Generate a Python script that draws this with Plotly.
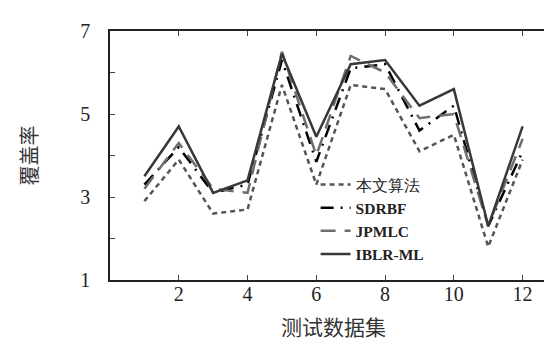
import plotly.graph_objects as go

x = list(range(1, 13))
ours = [2.9, 3.9, 2.6, 2.7, 5.7, 3.3, 5.7, 5.6, 4.1, 4.5, 1.8, 3.9]
sdrbf = [3.3, 4.2, 3.1, 3.3, 6.3, 3.85, 6.1, 6.2, 4.6, 5.2, 2.3, 4.1]
jpmlc = [3.2, 4.3, 3.2, 3.1, 6.5, 4.0, 6.4, 6.0, 4.9, 5.0, 2.3, 4.4]
iblr = [3.5, 4.7, 3.1, 3.4, 6.45, 4.45, 6.2, 6.3, 5.2, 5.6, 2.3, 4.7]

names = ["本文算法", "<b>SDRBF</b>", "<b>JPMLC</b>", "<b>IBLR-ML</b>"]
series = [ours, sdrbf, jpmlc, iblr]
styles = [
    dict(color="#555555", width=2.5, dash="5px,4px"),
    dict(color="#000000", width=2.5, dash="13px,7px,2px,7px"),
    dict(color="#6e6e6e", width=2.5, dash="15px,9px"),
    dict(color="#383838", width=2.5, dash="solid"),
]

yticks = [1, 2, 3, 4, 5, 6, 7]
yticktext = ["1", "", "3", "", "5", "", "7"]
xticks = [2, 4, 6, 8, 10, 12]

fig = go.Figure()
for n, s, st in zip(names, series, styles):
    fig.add_trace(go.Scatter(x=x, y=s, mode="lines", name=n, line=st))

fig.update_layout(
    width=552, height=344,
    margin=dict(l=102, r=1, t=23, b=72),
    paper_bgcolor="white", plot_bgcolor="white",
    font=dict(family="Liberation Serif", size=18, color="#222"),
    showlegend=True,
    legend=dict(x=0.46, y=0.45, xanchor="left", yanchor="top",
                bgcolor="rgba(0,0,0,0)", tracegroupgap=0,
                font=dict(family="Liberation Serif", size=15.5, color="#222")),
)
fig.update_xaxes(range=[0, 13], tickvals=xticks, ticks="inside", ticklen=5,
                 showline=True, linecolor="#222", linewidth=1.5, mirror="ticks",
                 showgrid=False, zeroline=False, ticklabelstandoff=-5,
                 tickfont=dict(family="Liberation Serif", size=20),
                 title=dict(text="测试数据集", standoff=17,
                            font=dict(family="Noto Sans CJK SC", size=21, color="#333")))
fig.update_yaxes(range=[1, 7], tickvals=yticks, ticktext=yticktext, ticks="inside", ticklen=5,
                 showline=True, linecolor="#222", linewidth=1.5, mirror="ticks",
                 showgrid=False, zeroline=False, ticklabelstandoff=14,
                 tickfont=dict(family="Liberation Serif", size=20),
                 title=dict(text="覆盖率", standoff=37,
                            font=dict(family="Noto Sans CJK SC", size=20, color="#333")))
fig.write_html("out.html")
